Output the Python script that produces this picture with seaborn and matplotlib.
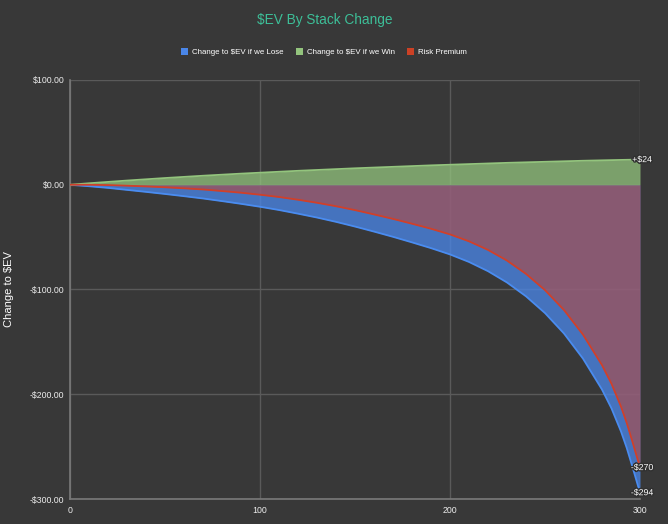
import matplotlib
matplotlib.use("Agg")
import matplotlib.pyplot as plt
import matplotlib.patheffects as pe
from matplotlib.patches import Patch
import numpy as np
import pandas as pd
import seaborn as sns

# stack change (x) and the three series
stack_change = [0, 10, 20, 30, 40, 50, 60, 70, 80, 90, 100, 110, 120, 130, 140,
                150, 160, 170, 180, 190, 200, 210, 220, 230, 240, 250, 260, 270,
                280, 285, 290, 293, 296, 298, 300]
ev_lose = [0, -1.4, -3.0, -4.9, -6.8, -8.8, -10.9, -13.1, -15.6, -18.2, -21.0,
           -24.1, -27.6, -31.3, -35.4, -39.9, -44.7, -49.7, -55.0, -60.5, -66.5,
           -73.7, -82.5, -93.3, -106.5, -122.5, -142.0, -166.0, -195.5, -213.5,
           -235.5, -251.1, -269.1, -281.5, -294.0]
ev_win = [0, 1.4, 2.7, 4.0, 5.2, 6.4, 7.5, 8.6, 9.6, 10.6, 11.5, 12.4, 13.3,
          14.1, 14.9, 15.7, 16.4, 17.1, 17.8, 18.5, 19.1, 19.7, 20.3, 20.9, 21.4,
          21.9, 22.4, 22.9, 23.3, 23.5, 23.7, 23.8, 23.9, 23.95, 24.0]
risk_premium = [0, 0, -0.3, -0.9, -1.6, -2.4, -3.4, -4.5, -6.0, -7.6, -9.5,
                -11.7, -14.3, -17.2, -20.5, -24.2, -28.3, -32.6, -37.2, -42.0,
                -47.4, -54.0, -62.2, -72.4, -85.1, -100.6, -119.6, -143.1,
                -172.2, -190.0, -211.8, -227.3, -245.2, -257.6, -270.0]

series_names = ["Change to $EV if we Lose", "Change to $EV if we Win", "Risk Premium"]
line_colors = ["#4a8cf0", "#93c47d", "#d0402a"]
legend_colors = ["#4a86e8", "#93c47d", "#cc4125"]
end_labels = ["-$294", "+$24", "-$270"]

bg = "#383838"
sns.set_theme(style="dark")
plt.rcParams["font.family"] = ["Liberation Sans", "DejaVu Sans"]

df = pd.DataFrame({
    "x": stack_change * 3,
    "value": ev_lose + ev_win + risk_premium,
    "series": [series_names[0]] * len(stack_change)
              + [series_names[1]] * len(stack_change)
              + [series_names[2]] * len(stack_change),
})

fig = plt.figure(figsize=(6.68, 5.24), dpi=100, facecolor=bg)
ax = fig.add_axes([70 / 668, 25 / 524, 570 / 668, 419 / 524])
ax.set_facecolor(bg)

# grid first so the areas sit over it
ax.set_axisbelow(True)
ax.grid(True, color="#5a5a5a", linewidth=1)

x = np.array(stack_change)
ax.fill_between(x, 0, ev_lose, color="#4a86e8", alpha=0.77, linewidth=0, zorder=2)
ax.fill_between(x, 0, risk_premium, color="#cc4125", alpha=0.5, linewidth=0, zorder=3)
ax.fill_between(x, 0, ev_win, color="#93c47d", alpha=0.75, linewidth=0, zorder=3)

sns.lineplot(data=df, x="x", y="value", hue="series", hue_order=series_names,
             palette=line_colors, linewidth=1.3, legend=False, ax=ax, zorder=4)

ax.set_xlim(0, 300)
ax.set_ylim(-300, 100)
ax.set_xticks([0, 100, 200, 300])
ax.set_yticks([100, 0, -100, -200, -300])
ax.set_yticklabels([r"\$100.00", r"\$0.00", r"-\$100.00", r"-\$200.00", r"-\$300.00"])
ax.tick_params(axis="both", length=0, colors="#ececec", labelsize=6.3)
ax.tick_params(axis="y", pad=4)
ax.tick_params(axis="x", pad=5)

for side in ["top", "right"]:
    ax.spines[side].set_visible(False)
for side in ["left", "bottom"]:
    ax.spines[side].set_visible(True)
    ax.spines[side].set_color("#7a7a7a")
    ax.spines[side].set_linewidth(1.2)

ax.set_xlabel("")
ax.set_ylabel(r"Change to \$EV", color="white", fontsize=8)
ax.yaxis.set_label_coords(-0.098, 0.5)

# value labels at the right end
for vals, txt in zip([ev_lose, ev_win, risk_premium], end_labels):
    ax.annotate(txt.replace("$", r"\$"), (stack_change[-1], vals[-1]),
                xytext=(1.5, 0), textcoords="offset points",
                ha="center", va="center", fontsize=6.3, color="white",
                zorder=6, annotation_clip=False,
                path_effects=[pe.withStroke(linewidth=2, foreground="#303030")])

fig.text(0.486, 0.962, r"\$EV By Stack Change", ha="center", va="center",
         fontsize=9.8, color="#3dbf98")

handles = [Patch(facecolor=c, edgecolor="none") for c in legend_colors]
labels = [s.replace("$", r"\$") for s in series_names]
leg = fig.legend(handles, labels, loc="center", bbox_to_anchor=(0.485, 0.900),
                 ncol=3, frameon=False, fontsize=5.7, handlelength=0.95,
                 handleheight=0.95, handletextpad=0.5, columnspacing=1.5)
for t in leg.get_texts():
    t.set_color("white")

fig.savefig("out.png", dpi=100, facecolor=bg)
